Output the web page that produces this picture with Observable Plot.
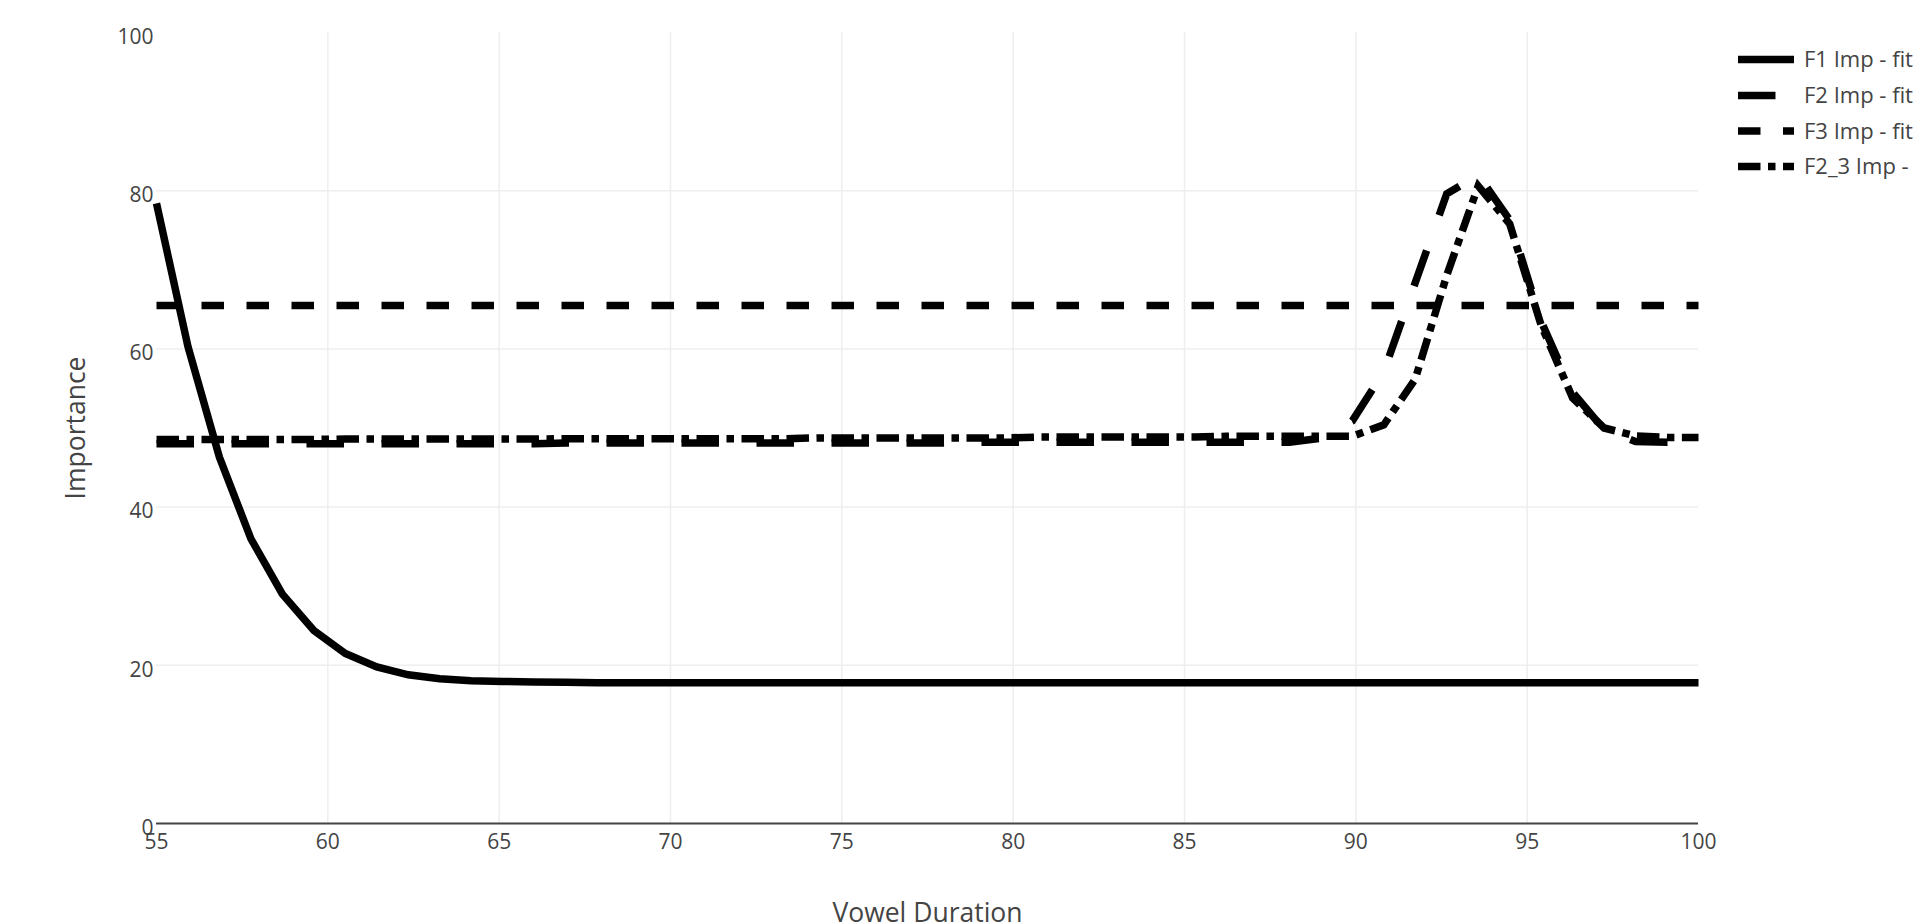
<!DOCTYPE html>
<html><head><meta charset="utf-8">
<script src="https://cdn.jsdelivr.net/npm/d3@7"></script>
<script src="https://cdn.jsdelivr.net/npm/@observablehq/plot@0.6"></script>
<style>
html,body{margin:0;padding:0;background:#fff;overflow:hidden;}
#chart{position:relative;width:1914px;height:923px;overflow:hidden;}
</style></head><body><div id="chart"></div>
<script>
const durations = [55, 55.918, 56.837, 57.755, 58.673, 59.592, 60.510, 61.429, 62.347, 63.265,
  64.184, 65.102, 66.020, 66.939, 67.857, 68.776, 69.694, 70.612, 71.531, 72.449,
  73.367, 74.286, 75.204, 76.122, 77.041, 77.959, 78.878, 79.796, 80.714, 81.633,
  82.551, 83.469, 84.388, 85.306, 86.224, 87.143, 88.061, 88.980, 89.898, 90.816,
  91.735, 92.653, 93.571, 94.490, 95.408, 96.327, 97.245, 98.163, 99.082, 100];

const seriesNames = ["F1 Imp - fit", "F2 Imp - fit", "F3 Imp - fit", "F2_3 Imp - fit"];

const f1Imp = [78.4, 60.3, 46.3, 36.0, 29.0, 24.4, 21.5, 19.8, 18.8, 18.3,
  18.05, 17.95, 17.9, 17.85, 17.8, 17.8, 17.8, 17.8, 17.8, 17.8,
  17.8, 17.8, 17.8, 17.8, 17.8, 17.8, 17.8, 17.8, 17.8, 17.8,
  17.8, 17.8, 17.8, 17.8, 17.8, 17.8, 17.8, 17.8, 17.8, 17.8,
  17.8, 17.8, 17.8, 17.8, 17.8, 17.8, 17.8, 17.8, 17.8, 17.8];

const f2Imp = [48.0, 48.0, 48.0, 48.0, 48.0, 48.0, 48.0, 48.0, 48.0, 48.0,
  48.0, 48.0, 48.0, 48.1, 48.1, 48.1, 48.1, 48.1, 48.1, 48.1,
  48.1, 48.1, 48.1, 48.1, 48.1, 48.1, 48.2, 48.2, 48.2, 48.2,
  48.2, 48.2, 48.2, 48.2, 48.2, 48.2, 48.2, 48.7, 50.9, 57.1,
  68.4, 79.6, 82.0, 76.3, 63.5, 54.5, 49.8, 48.3, 48.2, 48.3];

const f3Imp = [65.5, 65.5, 65.5, 65.5, 65.5, 65.5, 65.5, 65.5, 65.5, 65.5,
  65.5, 65.5, 65.5, 65.5, 65.5, 65.5, 65.5, 65.5, 65.5, 65.5,
  65.5, 65.5, 65.5, 65.5, 65.5, 65.5, 65.5, 65.5, 65.5, 65.5,
  65.5, 65.5, 65.5, 65.5, 65.5, 65.5, 65.5, 65.5, 65.5, 65.5,
  65.5, 65.5, 65.5, 65.5, 65.5, 65.5, 65.5, 65.5, 65.5, 65.5];

const f23Imp = [48.55, 48.55, 48.55, 48.55, 48.55, 48.55, 48.6, 48.6, 48.6, 48.6,
  48.6, 48.6, 48.6, 48.65, 48.65, 48.65, 48.65, 48.65, 48.65, 48.65,
  48.65, 48.75, 48.75, 48.75, 48.75, 48.75, 48.75, 48.75, 48.85, 48.85,
  48.85, 48.85, 48.85, 48.85, 48.95, 48.95, 48.95, 48.95, 48.95, 50.4,
  56.2, 69.3, 80.6, 75.8, 63.0, 53.8, 50.0, 49.0, 48.8, 48.8];

const xTicks = [55, 60, 65, 70, 75, 80, 85, 90, 95, 100];
const yTicks = [0, 20, 40, 60, 80, 100];
const xTitle = "Vowel Duration";
const yTitle = "Importance";

const W = 1914, H = 923, LW = 7.5;
const dashes = [null, `${5*LW},${5*LW}`, `${3*LW},${3*LW}`, `${3*LW},${LW},${LW},${LW}`];
const seriesValues = [f1Imp, f2Imp, f3Imp, f23Imp];
const tables = seriesValues.map((vals, s) => durations.map((d, i) => ({x: d, y: vals[i], series: seriesNames[s]})));

const font = "'Open Sans', 'Noto Sans', sans-serif";

const plot = Plot.plot({
  width: W, height: H,
  marginLeft: 156, marginRight: 216, marginTop: 32, marginBottom: 100,
  style: {fontFamily: font, fontSize: "21px", color: "#444", background: "#fff"},
  x: {domain: [55, 100]},
  y: {domain: [0, 100]},
  marks: [
    Plot.gridX(xTicks.filter(t => t > 55 && t < 100), {stroke: "#eee", strokeOpacity: 1, strokeWidth: 1.5}),
    Plot.gridY(yTicks.filter(t => t > 0 && t < 100), {stroke: "#eee", strokeOpacity: 1, strokeWidth: 1.5}),
    Plot.ruleY([0], {stroke: "#444", strokeWidth: 2}),
    Plot.axisX(xTicks, {tickSize: 0, tickPadding: 11, label: null, fill: "#444"}),
    Plot.axisY(yTicks, {tickSize: 0, tickPadding: 3, dy: 4.5, label: null, fill: "#444"}),
    Plot.text([xTitle], {text: d => d, frameAnchor: "bottom", textAnchor: "middle", lineAnchor: "bottom", dy: 98, fontSize: 26.5, fill: "#444"}),
    Plot.text([yTitle], {text: d => d, frameAnchor: "left", textAnchor: "middle", lineAnchor: "middle", dx: -80, rotate: -90, fontSize: 26.5, fill: "#444"}),
    ...tables.map((t, s) => Plot.line(t, {
      x: "x", y: "y", stroke: "#000", strokeWidth: LW,
      strokeDasharray: dashes[s] || undefined,
      strokeLinecap: "butt", strokeLinejoin: "miter", strokeMiterlimit: 4
    }))
  ]
});

document.getElementById("chart").appendChild(plot);

// legend
const svg = d3.select(plot);
const leg = svg.append("g").attr("text-anchor", "start");
const rowY = [59.5, 95.5, 131, 166.5];
seriesNames.forEach((name, i) => {
  const ln = leg.append("line")
    .attr("x1", 1738).attr("x2", 1794).attr("y1", rowY[i]).attr("y2", rowY[i])
    .attr("stroke", "#000").attr("stroke-width", LW).attr("stroke-linecap", "butt");
  if (dashes[i]) ln.attr("stroke-dasharray", dashes[i]);
  leg.append("text")
    .attr("x", 1804).attr("y", rowY[i] + 7.8)
    .attr("text-anchor", "start")
    .attr("font-family", font).attr("font-size", 22).attr("fill", "#444")
    .text(name);
});
</script></body></html>
